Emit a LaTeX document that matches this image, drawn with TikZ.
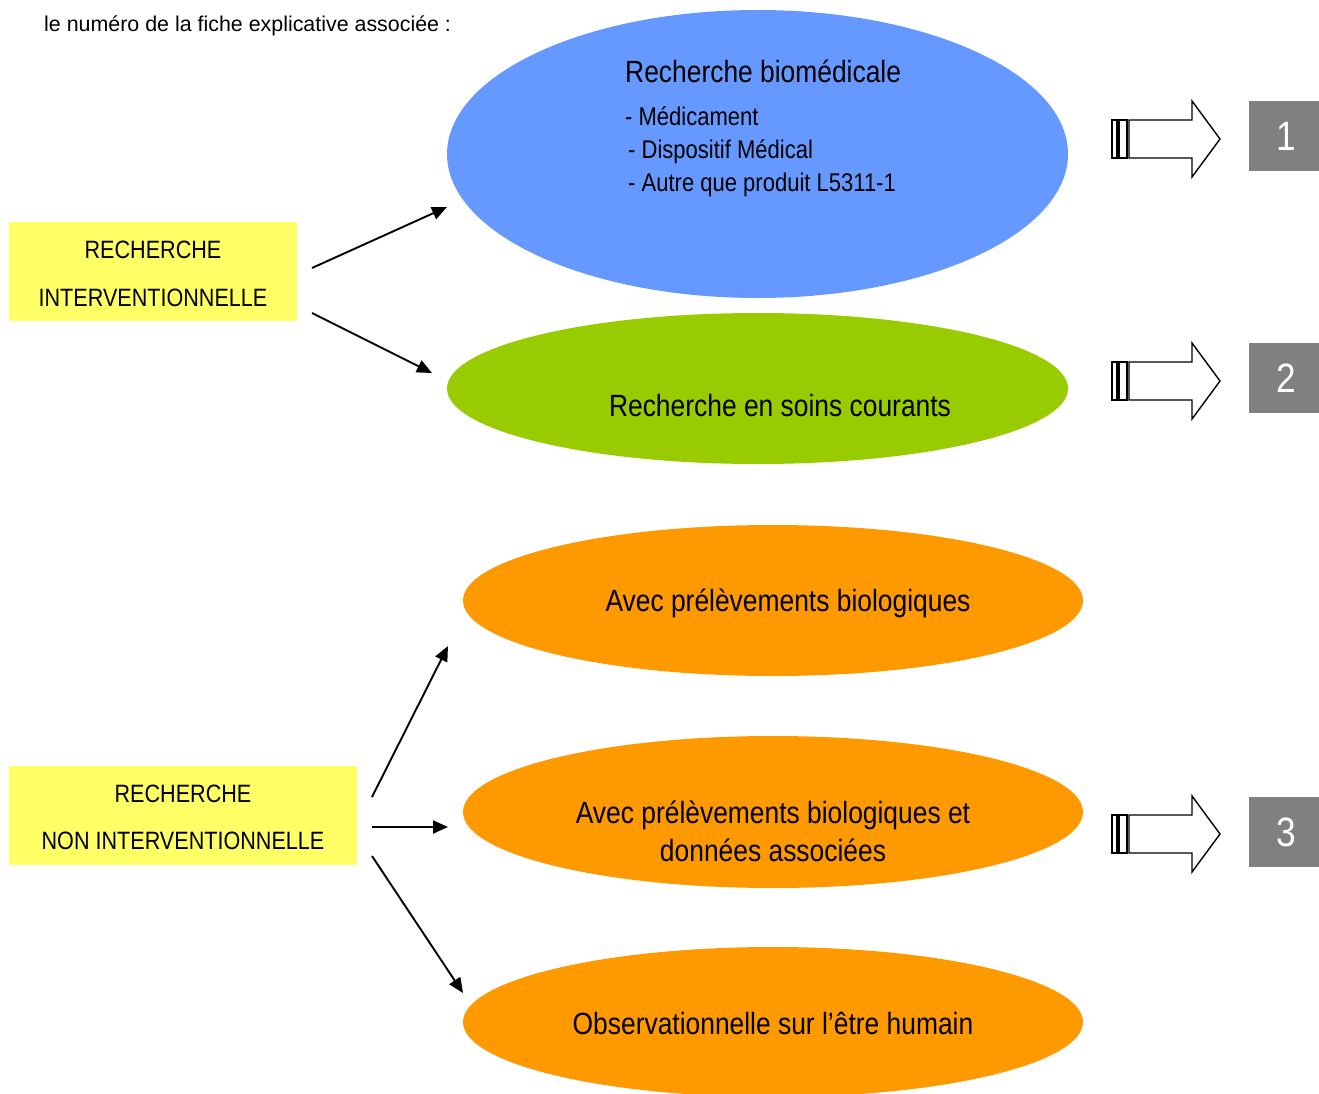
\documentclass[tikz,border=0pt]{standalone}
\usepackage{fontspec}
\setmainfont{Liberation Sans}
\newfontfamily\narrowfont[FakeStretch=0.86]{Liberation Sans}
\usetikzlibrary{arrows.meta, shapes.geometric, positioning}
\definecolor{bleubio}{HTML}{6699FF}
\definecolor{vertsoin}{HTML}{99CC00}
\definecolor{orangenri}{HTML}{FF9900}
\definecolor{jaunecat}{HTML}{FFFF66}
\definecolor{grisfiche}{HTML}{808080}

\tikzset{
  bulle/.style={ellipse, draw=none, inner sep=0pt},
  categorie/.style={fill=jaunecat, inner sep=0pt, anchor=north west},
  txtbulle/.style={font=\narrowfont\fontsize{30.7}{36}\selectfont, inner sep=0pt, anchor=base},
  txtliste/.style={font=\narrowfont\fontsize{25.6}{30}\selectfont, inner sep=0pt, anchor=base west},
  txtcat/.style={font=\narrowfont\fontsize{25.1}{30}\selectfont, inner sep=0pt, anchor=base},
  fiche/.style={fill=grisfiche, text=white, minimum size=70pt, inner sep=0pt,
    font=\narrowfont\fontsize{41}{41}\selectfont},
  fleche/.style={-{Triangle[length=15pt,width=13pt]}, line width=1.9pt},
}

% block arrow pointing to the fiche, centred on y = #1
\newcommand\renvoi[1]{%
  \draw[line width=1.4pt] (1112,#1-19) rectangle (1117,#1+19);
  \draw[line width=1.4pt] (1119,#1-19) rectangle (1127,#1+19);
  \draw[line width=1.4pt, line join=miter] (1129,#1-19) -- (1192,#1-19) -- (1192,#1-38)
    -- (1220,#1) -- (1192,#1+38) -- (1192,#1+19) -- (1129,#1+19) -- cycle;
}

\begin{document}
\begin{tikzpicture}[x=1pt, y=-1pt]
\path[use as bounding box, fill=white] (0,0) rectangle (1319,1094);
%%
\node[font=\fontsize{21.4}{24}\selectfont, inner sep=0pt, anchor=base west] (entete) at (44,32)
  {le numéro de la fiche explicative associée :};
  % Node: categories
\node[categorie, minimum width=288pt, minimum height=99pt] (interv) at (9,222) {};
\node[txtcat] (interva) at (153,258) {RECHERCHE};
\node[txtcat] (intervb) at (153,306) {INTERVENTIONNELLE};
\node[categorie, minimum width=348pt, minimum height=99pt] (noninterv) at (9,766) {};
\node[txtcat] (nonintera) at (183,802) {RECHERCHE};
\node[txtcat] (noninterb) at (183,849) {NON INTERVENTIONNELLE};
  % Node: bulles
\node[bulle, fill=bleubio, minimum width=621pt, minimum height=288pt] (biomed) at (757.5,154) {};
\node[txtbulle, anchor=base west] (biomedtitre) at (625,83) {Recherche biomédicale};
\node[txtliste] (biomeda) at (625,126) {- Médicament};
\node[txtliste] (biomedb) at (628,159) {- Dispositif Médical};
\node[txtliste] (biomedc) at (628,192) {- Autre que produit L5311-1};
\node[bulle, fill=vertsoin, minimum width=621pt, minimum height=151pt] (soins) at (757.5,388.5) {};
\node[txtbulle] (soinstxt) at (780,416) {Recherche en soins courants};
\node[bulle, fill=orangenri, minimum width=620pt, minimum height=151pt] (prelev) at (773,600.5) {};
\node[txtbulle] (prelevtxt) at (788,611) {Avec prélèvements biologiques};
\node[bulle, fill=orangenri, minimum width=620pt, minimum height=152pt] (donnees) at (773,812) {};
\node[txtbulle] (donneesa) at (773,823) {Avec prélèvements biologiques et};
\node[txtbulle] (donneesb) at (773,861) {données associées};
\node[bulle, fill=orangenri, minimum width=620pt, minimum height=150pt] (observ) at (773,1022) {};
\node[txtbulle] (observtxt) at (773,1034) {Observationnelle sur l’être humain};
  % Node: fiches
\node[fiche] (fiche1) at (1284,136) {\kern5pt 1};
\node[fiche] (fiche2) at (1284,378) {\kern5pt 2};
\node[fiche] (fiche3) at (1284,832) {\kern5pt 3};
\renvoi{139}
\renvoi{381}
\renvoi{834}
  % Edge: categories -- bulles
\coordinate (dep1) at (312,268);
\coordinate (dep2) at (312,313);
\coordinate (arr1) at (447,207);
\coordinate (arr2) at (432,373);
\draw[fleche] (dep1) -- (arr1);
\draw[fleche] (dep2) -- (arr2);
\coordinate (dep3) at (372,797);
\coordinate (dep4) at (372,827);
\coordinate (dep5) at (372,856);
\coordinate (arr3) at (448,646);
\coordinate (arr4) at (448,827);
\coordinate (arr5) at (463,993);
\draw[fleche] (dep3) -- (arr3);
\draw[fleche] (dep4) -- (arr4);
\draw[fleche] (dep5) -- (arr5);
%
\end{tikzpicture}
\end{document}
